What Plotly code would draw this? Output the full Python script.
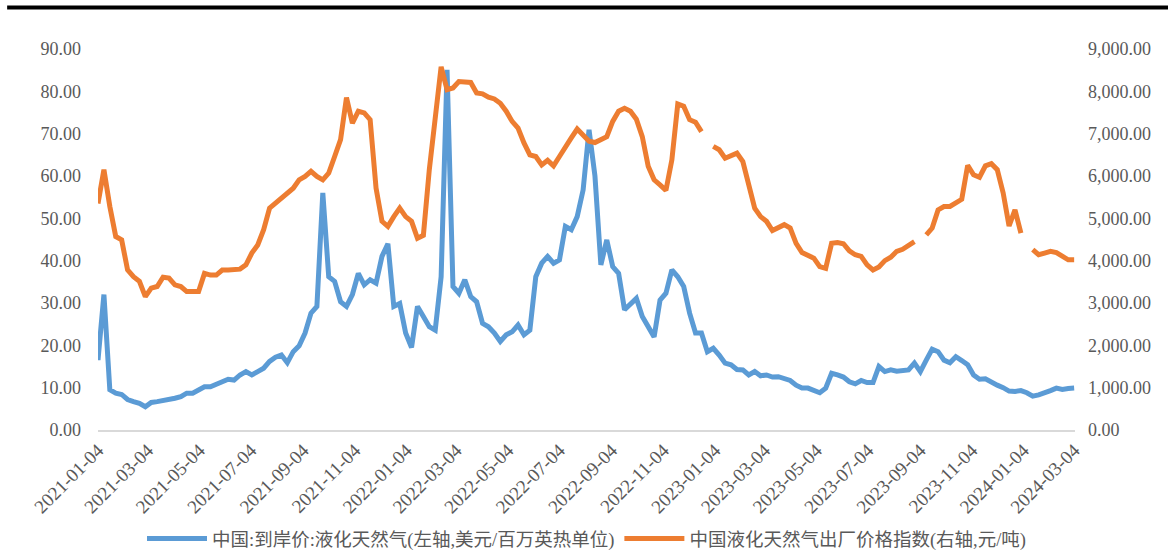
import pandas as pd
import plotly.graph_objects as go

# Weekly observation dates (Mondays) from 2021-01-04 to 2024-03-04
dates = pd.date_range("2021-01-04", periods=166, freq="7D")

# 中国:到岸价:液化天然气 (USD/MMBtu) - left axis
lng_cif = [
    16.5, 32.0, 9.5, 8.7, 8.4, 7.2, 6.7, 6.3, 5.5, 6.5,
    6.7, 6.9, 7.2, 7.5, 7.9, 8.7, 8.7, 9.6, 10.2, 10.2,
    10.9, 11.4, 12.0, 11.8, 13.0, 13.8, 13.0, 13.8, 14.6, 16.2,
    17.2, 17.7, 15.9, 18.5, 19.9, 22.9, 27.6, 29.2, 56.0, 36.2,
    35.1, 30.3, 29.2, 32.0, 37.0, 34.3, 35.5, 34.7, 41.0, 44.0,
    29.2, 29.9, 22.9, 19.5, 29.2, 26.8, 24.4, 23.6, 36.2, 85.1,
    33.9, 32.3, 35.5, 31.5, 30.3, 25.2, 24.4, 22.9, 20.9, 22.5,
    23.2, 24.8, 22.5, 23.6, 36.2, 39.4, 41.0, 39.4, 40.2, 48.1,
    47.3, 50.4, 56.7, 70.9, 60.0, 39.0, 44.9, 38.6, 37.0, 28.4,
    29.9, 31.1, 26.8, 24.4, 22.0, 30.7, 32.3, 37.8, 36.2, 33.9,
    27.6, 22.9, 22.9, 18.5, 19.3, 17.7, 15.8, 15.4, 14.3, 14.2,
    13.0, 13.8, 12.8, 13.0, 12.5, 12.6, 12.2, 11.7, 10.6, 9.9,
    9.9, 9.5, 8.8, 9.9, 13.4, 13.0, 12.5, 11.4, 10.9, 11.7,
    11.2, 11.2, 15.0, 13.8, 14.2, 13.9, 14.2, 14.2, 15.8, 13.8,
    16.5, 19.1, 18.5, 16.5, 15.9, 17.3, 16.4, 15.4, 13.0, 12.0,
    12.1, 11.2, 10.6, 10.0, 9.2, 9.1, 9.3, 8.8, 8.0, 8.3,
    8.7, 9.3, 9.9, 9.6, 9.8, 9.9,
]

# 中国液化天然气出厂价格指数 (元/吨) - right axis
lng_factory = [
    5350, 6150, 5280, 4570, 4490, 3780, 3620, 3510, 3150, 3350,
    3390, 3610, 3590, 3430, 3390, 3270, 3270, 3270, 3700, 3660,
    3660, 3780, 3780, 3780, 3800, 3900, 4180, 4370, 4730, 5240,
    5360, 5480, 5580, 5710, 5910, 5990, 6110, 5990, 5910, 6070,
    6460, 6860, 7850, 7250, 7530, 7490, 7330, 5710, 4930, 4810,
    5040, 5240, 5040, 4930, 4530, 4600, 6150, 7400, 8580, 8040,
    8080, 8230, 8210, 8210, 7960, 7940, 7860, 7820, 7720, 7530,
    7290, 7130, 6780, 6500, 6460, 6260, 6370, 6240, 6460, 6700,
    6900, 7110, 6970, 6820, 6790, 6860, 6930, 7290, 7530, 7600,
    7530, 7340, 6930, 6230, 5910, 5790, 5660, 6380, 7700, 7650,
    7330, 7270, 7050, None, 6700, 6620, 6420, 6480, 6540, 6340,
    5830, 5240, 5040, 4930, 4710, 4770, 4850, 4770, 4410, 4190,
    4110, 4060, 3860, 3820, 4410, 4430, 4400, 4230, 4140, 4100,
    3900, 3780, 3850, 4000, 4080, 4220, 4270, 4370, 4450, None,
    4610, 4770, 5200, 5280, 5280, 5360, 5450, 6250, 6030, 5970,
    6240, 6290, 6150, 5600, 4820, 5200, 4650, None, 4260, 4140,
    4180, 4220, 4190, 4110, 4020, 4020,
]

x_ticks = [
    "2021-01-04", "2021-03-04", "2021-05-04", "2021-07-04", "2021-09-04",
    "2021-11-04", "2022-01-04", "2022-03-04", "2022-05-04", "2022-07-04",
    "2022-09-04", "2022-11-04", "2023-01-04", "2023-03-04", "2023-05-04",
    "2023-07-04", "2023-09-04", "2023-11-04", "2024-01-04", "2024-03-04",
]

name_left = "中国:到岸价:液化天然气(左轴,美元/百万英热单位)"
name_right = "中国液化天然气出厂价格指数(右轴,元/吨)"

BLUE = "#5B9BD5"
ORANGE = "#ED7D31"
GREY = "#595959"
FONT = "Liberation Serif, Noto Sans CJK SC, serif"

fig = go.Figure()
fig.add_trace(go.Scatter(
    x=dates, y=lng_cif, name=name_left, mode="lines",
    line=dict(color=BLUE, width=5), yaxis="y",
))
fig.add_trace(go.Scatter(
    x=dates, y=lng_factory, name=name_right, mode="lines",
    line=dict(color=ORANGE, width=5), yaxis="y2", connectgaps=False,
))

fig.update_layout(
    width=1168, height=556,
    margin=dict(l=98, r=93, t=49, b=126, autoexpand=False),
    paper_bgcolor="white", plot_bgcolor="white",
    font=dict(family=FONT, size=18, color=GREY),
    showlegend=True,
    legend=dict(
        orientation="h", x=0.5, xanchor="center", y=-0.286, yanchor="middle",
        font=dict(family=FONT, size=18.5, color=GREY),
        itemwidth=60, tracegroupgap=0,
    ),
    xaxis=dict(
        type="date", automargin=False,
        range=["2021-01-04", "2024-03-05"],
        tickmode="array", tickvals=x_ticks, ticktext=x_ticks,
        tickangle=-45, tickfont=dict(size=19, color=GREY),
        showgrid=False, zeroline=False,
        showline=True, linecolor="#D9D9D9", linewidth=1.5,
        ticks="",
    ),
    yaxis=dict(
        range=[0, 90], dtick=10, tickformat=".2f", automargin=False,
        showgrid=False, zeroline=False, showline=False,
        tickfont=dict(size=18, color=GREY), ticklabelstandoff=16,
    ),
    yaxis2=dict(
        range=[0, 9000], dtick=1000, tickformat=",.2f", automargin=False,
        overlaying="y", side="right",
        showgrid=False, zeroline=False, showline=False,
        tickfont=dict(size=18, color=GREY), ticklabelstandoff=12,
    ),
    shapes=[dict(
        type="line", xref="paper", yref="paper",
        x0=-0.093, x1=1.1, y0=1.109, y1=1.109,
        line=dict(color="black", width=4),
    )],
)

fig.write_html("out.html")
